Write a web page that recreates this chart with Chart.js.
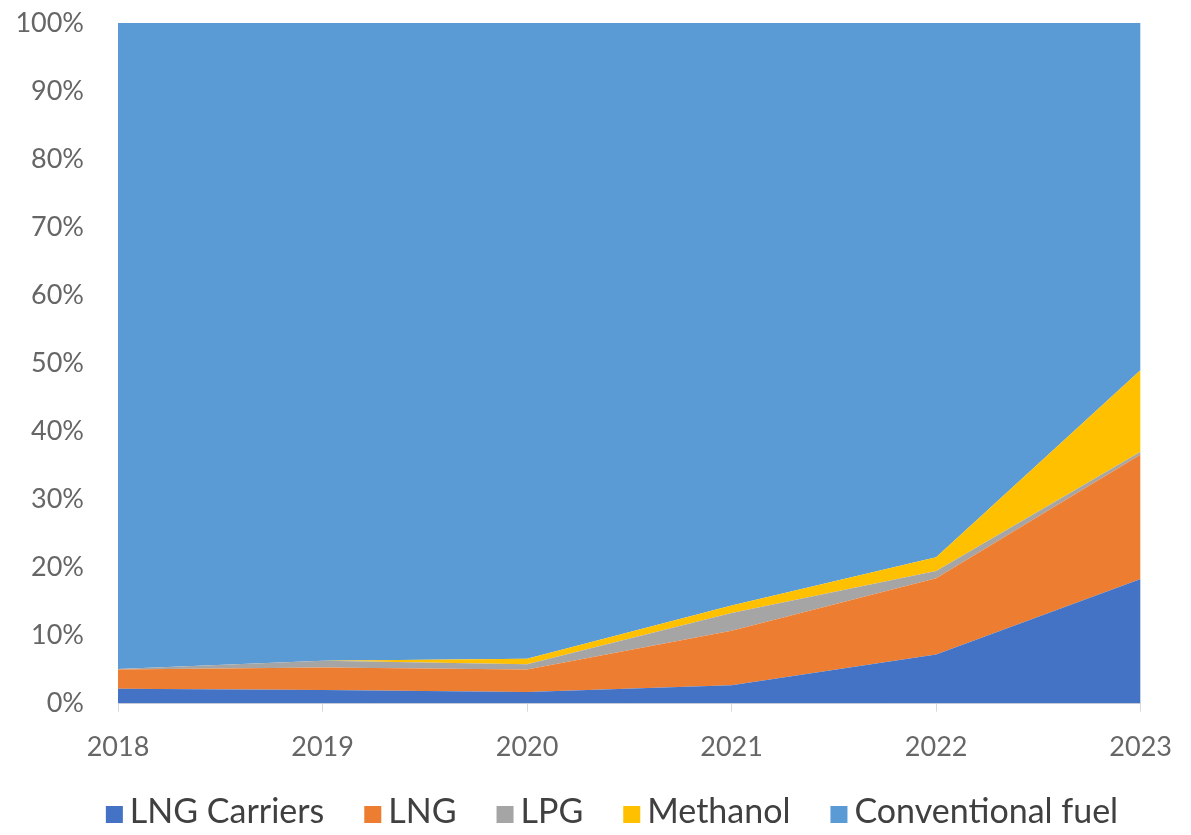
<!DOCTYPE html>
<html>
<head>
<meta charset="utf-8">
<script src="https://cdn.jsdelivr.net/npm/chart.js@4"></script>
<style>
  html, body { margin: 0; padding: 0; background: #fff; }
  #wrap { width: 1191px; height: 835px; }
</style>
</head>
<body>
<div id="wrap"><canvas id="fuelChart"></canvas></div>
<script>
// Share of fleet by fuel type, 2018-2023 (100% stacked)
const years = ['2018', '2019', '2020', '2021', '2022', '2023'];
const lngCarriers = [2.2, 2.0, 1.7, 2.7, 7.2, 18.3];
const lng = [2.8, 3.3, 3.3, 8.0, 11.2, 18.3];
const lpg = [0.1, 1.0, 0.8, 2.6, 1.1, 0.4];
const methanol = [0.0, 0.0, 0.8, 1.1, 2.0, 12.0];
const conventional = [94.9, 93.7, 93.4, 85.6, 78.5, 51.0];

const FONT = 'Lato, "Open Sans", sans-serif';

function area(label, data, color, fill) {
    return {
        label: label,
        data: data,
        backgroundColor: color,
        borderColor: color,
        borderWidth: 0,
        pointRadius: 0,
        tension: 0,
        fill: fill
    };
}

// Bottom legend: small square, short gap, label; wide gap between items
const bottomLegend = {
    id: 'bottomLegend',
    afterDraw(chart) {
        const ctx = chart.ctx;
        const box = 17, gap = 7, itemGap = 40;
        const centerX = 612, midY = 812;
        ctx.save();
        ctx.font = '34px ' + FONT;
        const items = chart.data.datasets.map(ds => ({
            label: ds.label,
            color: ds.backgroundColor,
            w: ctx.measureText(ds.label).width
        }));
        const total = items.reduce((s, it) => s + box + gap + it.w, 0) + itemGap * (items.length - 1);
        let x = centerX - total / 2;
        ctx.textBaseline = 'middle';
        ctx.textAlign = 'left';
        items.forEach(it => {
            ctx.fillStyle = it.color;
            ctx.fillRect(x, midY - 6, box, box);
            ctx.fillStyle = '#404040';
            ctx.fillText(it.label, x + box + gap, midY);
            x += box + gap + it.w + itemGap;
        });
        ctx.restore();
    }
};

new Chart(document.getElementById('fuelChart'), {
    type: 'line',
    data: {
        labels: years,
        datasets: [
            area('LNG Carriers', lngCarriers, '#4472C4', 'origin'),
            area('LNG', lng, '#ED7D31', '-1'),
            area('LPG', lpg, '#A5A5A5', '-1'),
            area('Methanol', methanol, '#FFC000', '-1'),
            area('Conventional fuel', conventional, '#5B9BD5', '-1')
        ]
    },
    options: {
        responsive: true,
        maintainAspectRatio: false,
        animation: false,
        layout: {
            padding: { top: 23, right: 45, bottom: 53, left: 0 }
        },
        plugins: {
            legend: { display: false },
            tooltip: { enabled: false }
        },
        scales: {
            x: {
                offset: false,
                grid: {
                    display: true,
                    drawOnChartArea: false,
                    drawTicks: true,
                    tickLength: 8,
                    color: '#d9d9d9'
                },
                border: { display: true, color: '#d9d9d9' },
                ticks: {
                    color: '#666',
                    padding: 19,
                    maxRotation: 0,
                    font: { family: FONT, size: 27 }
                }
            },
            y: {
                stacked: true,
                min: 0,
                max: 100,
                afterFit: (scale) => {
                    // keep the wide label gap from pushing the plot down
                    scale.width = 118;
                    scale.paddingTop = 16;
                    scale.paddingBottom = 16;
                },
                grid: { display: false },
                border: { display: false },
                ticks: {
                    stepSize: 10,
                    color: '#666',
                    padding: 26,
                    font: { family: FONT, size: 27 },
                    callback: (v) => v + '%'
                }
            }
        }
    },
    plugins: [bottomLegend]
});
</script>
</body>
</html>
